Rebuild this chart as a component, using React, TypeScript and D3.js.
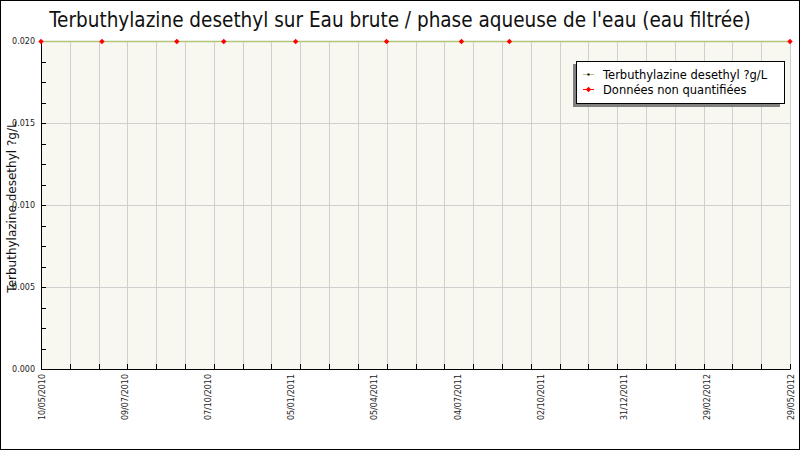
import { useEffect, useRef } from 'react';
import * as d3 from 'd3';

const sampleDates = [
  '2010-05-10',
  '2010-07-10',
  '2010-09-23',
  '2010-11-09',
  '2011-01-20',
  '2011-04-21',
  '2011-07-05',
  '2011-08-22',
  '2012-05-29',
];
const concentrations = [0.02, 0.02, 0.02, 0.02, 0.02, 0.02, 0.02, 0.02, 0.02];
const nonQuantified = [true, true, true, true, true, true, true, true, true];

const xTickLabels = [
  '10/05/2010',
  '09/07/2010',
  '07/10/2010',
  '05/01/2011',
  '05/04/2011',
  '04/07/2011',
  '02/10/2011',
  '31/12/2011',
  '29/02/2012',
  '29/05/2012',
];
const yTicks = [0, 0.005, 0.01, 0.015, 0.02];

const TITLE = "Terbuthylazine desethyl sur Eau brute / phase aqueuse de l'eau (eau filtrée)";
const SERIES_NAME = 'Terbuthylazine desethyl ?g/L';
const NQ_NAME = 'Données non quantifiées';

const W = 800;
const H = 450;
const FONT = '"DejaVu Sans", Verdana, sans-serif';
const TITLE_FONT = '"DejaVu Sans Condensed", "DejaVu Sans", sans-serif';

export default function App() {
  const svgRef = useRef<SVGSVGElement>(null);

  useEffect(() => {
    if (!svgRef.current) return;
    const svg = d3.select(svgRef.current);
    svg.selectAll('*').remove();

    const left = 41;
    const right = 790;
    const top = 41;
    const bottom = 369;

    const parse = d3.utcParse('%Y-%m-%d');
    const dates = sampleDates.map((d) => parse(d) as Date);
    const x = d3.scaleUtc().domain([dates[0], dates[dates.length - 1]]).range([left, right]);
    const y = d3.scaleLinear().domain([0, 0.02]).range([bottom, top]);
    const xLabel = d3.scalePoint<string>().domain(xTickLabels).range([left, right]);

    // frame
    svg.append('rect').attr('x', 0.5).attr('y', 0.5).attr('width', W - 1).attr('height', H - 1)
      .attr('fill', '#fff').attr('stroke', '#000');

    // plot background
    svg.append('rect').attr('x', left).attr('y', top).attr('width', right - left).attr('height', bottom - top)
      .attr('fill', '#f8f8f0');

    // vertical grid: 26 equal steps over the date domain
    const [d0, d1] = x.domain();
    const gridDates = d3.range(27).map((i) => new Date(+d0 + ((+d1 - +d0) * i) / 26));
    svg.append('g').selectAll('line').data(gridDates).enter().append('line')
      .attr('x1', (d) => Math.round(x(d)) + 0.5).attr('x2', (d) => Math.round(x(d)) + 0.5)
      .attr('y1', top).attr('y2', bottom)
      .attr('stroke', '#cfcfcf');

    // horizontal grid
    svg.append('g').selectAll('line').data(yTicks.slice(1)).enter().append('line')
      .attr('x1', left).attr('x2', right)
      .attr('y1', (d) => Math.round(y(d)) + 0.5).attr('y2', (d) => Math.round(y(d)) + 0.5)
      .attr('stroke', '#cfcfcf');

    // axes
    svg.append('line').attr('x1', left + 0.5).attr('x2', left + 0.5).attr('y1', top).attr('y2', bottom + 0.5)
      .attr('stroke', '#000');
    svg.append('line').attr('x1', left).attr('x2', right + 0.5).attr('y1', bottom + 0.5).attr('y2', bottom + 0.5)
      .attr('stroke', '#000');

    // x ticks (inward)
    svg.append('g').selectAll('line').data(gridDates).enter().append('line')
      .attr('x1', (d) => Math.round(x(d)) + 0.5).attr('x2', (d) => Math.round(x(d)) + 0.5)
      .attr('y1', bottom - 5).attr('y2', bottom)
      .attr('stroke', '#000');

    // y ticks: major + 3 minor between
    const minor = d3.range(17).map((i) => (0.02 * i) / 16);
    svg.append('g').selectAll('line').data(minor).enter().append('line')
      .attr('x1', left).attr('x2', left + 5)
      .attr('y1', (d) => Math.round(y(d)) + 0.5).attr('y2', (d) => Math.round(y(d)) + 0.5)
      .attr('stroke', '#000');

    // y labels
    svg.append('g').selectAll('text').data(yTicks).enter().append('text')
      .attr('x', 35).attr('y', (d) => y(d) + 3)
      .attr('text-anchor', 'end').attr('font-family', FONT).attr('font-size', 8).attr('fill', '#222')
      .text((d) => d3.format('.3f')(d));

    // x labels rotated
    svg.append('g').selectAll('text').data(xTickLabels).enter().append('text')
      .attr('transform', (d) => `translate(${(xLabel(d) ?? 0) + 3.5},${bottom + 5}) rotate(-90)`)
      .attr('text-anchor', 'end').attr('font-family', FONT).attr('font-size', 8).attr('fill', '#222')
      .text((d) => d);

    // series line
    const pts = dates.map((d, i) => ({ date: d, value: concentrations[i], nq: nonQuantified[i] }));
    const line = d3.line<{ date: Date; value: number }>().x((d) => x(d.date)).y((d) => y(d.value) + 0.5);
    svg.append('path').datum(pts).attr('d', line).attr('fill', 'none').attr('stroke', '#b3c57a').attr('stroke-width', 1.5);

    // small black markers
    svg.append('g').selectAll('rect').data(pts).enter().append('rect')
      .attr('x', (d) => x(d.date) - 1).attr('y', (d) => y(d.value) - 0.5).attr('width', 2).attr('height', 2)
      .attr('fill', '#000');

    // red markers for non quantified
    const marker = d3.symbol().type(d3.symbolSquare).size(15);
    svg.append('g').selectAll('path').data(pts.filter((p) => p.nq)).enter().append('path')
      .attr('transform', (d) => `translate(${x(d.date)},${y(d.value) + 0.5}) rotate(45)`)
      .attr('d', marker() ?? '')
      .attr('fill', '#ff0000');

    // title
    svg.append('text').attr('x', 400).attr('y', 27).attr('text-anchor', 'middle')
      .attr('font-family', TITLE_FONT).attr('font-size', 20.5).attr('fill', '#111')
      .text(TITLE);

    // y axis title
    svg.append('text').attr('transform', `translate(16,${(top + bottom) / 2 + 2}) rotate(-90)`)
      .attr('text-anchor', 'middle').attr('font-family', FONT).attr('font-size', 12).attr('fill', '#111')
      .text(SERIES_NAME);

    // legend
    const lg = svg.append('g');
    lg.append('rect').attr('x', 573).attr('y', 64).attr('width', 207).attr('height', 43).attr('fill', '#808080');
    lg.append('rect').attr('x', 576.5).attr('y', 61.5).attr('width', 208).attr('height', 42)
      .attr('fill', '#fff').attr('stroke', '#000');
    const rows = [
      { label: SERIES_NAME, color: '#b3c57a', marker: 'black' },
      { label: NQ_NAME, color: '#ff0000', marker: 'red' },
    ];
    rows.forEach((r, i) => {
      const cy = 74.5 + i * 15;
      lg.append('line').attr('x1', 583).attr('x2', 594).attr('y1', cy).attr('y2', cy)
        .attr('stroke', r.color).attr('stroke-width', 1);
      if (r.marker === 'black') {
        lg.append('rect').attr('x', 587.5).attr('y', cy - 1).attr('width', 2).attr('height', 2).attr('fill', '#000');
      } else {
        lg.append('path').attr('transform', `translate(588.5,${cy}) rotate(45)`).attr('d', marker() ?? '').attr('fill', '#ff0000');
      }
      lg.append('text').attr('x', 603).attr('y', cy + 4).attr('font-family', FONT).attr('font-size', 11.5)
        .attr('fill', '#000').text(r.label);
    });
  }, []);

  return (
    <div style={{ position: 'absolute', left: 0, top: 0 }}>
      <svg ref={svgRef} width={W} height={H} style={{ display: 'block' }} />
    </div>
  );
}
